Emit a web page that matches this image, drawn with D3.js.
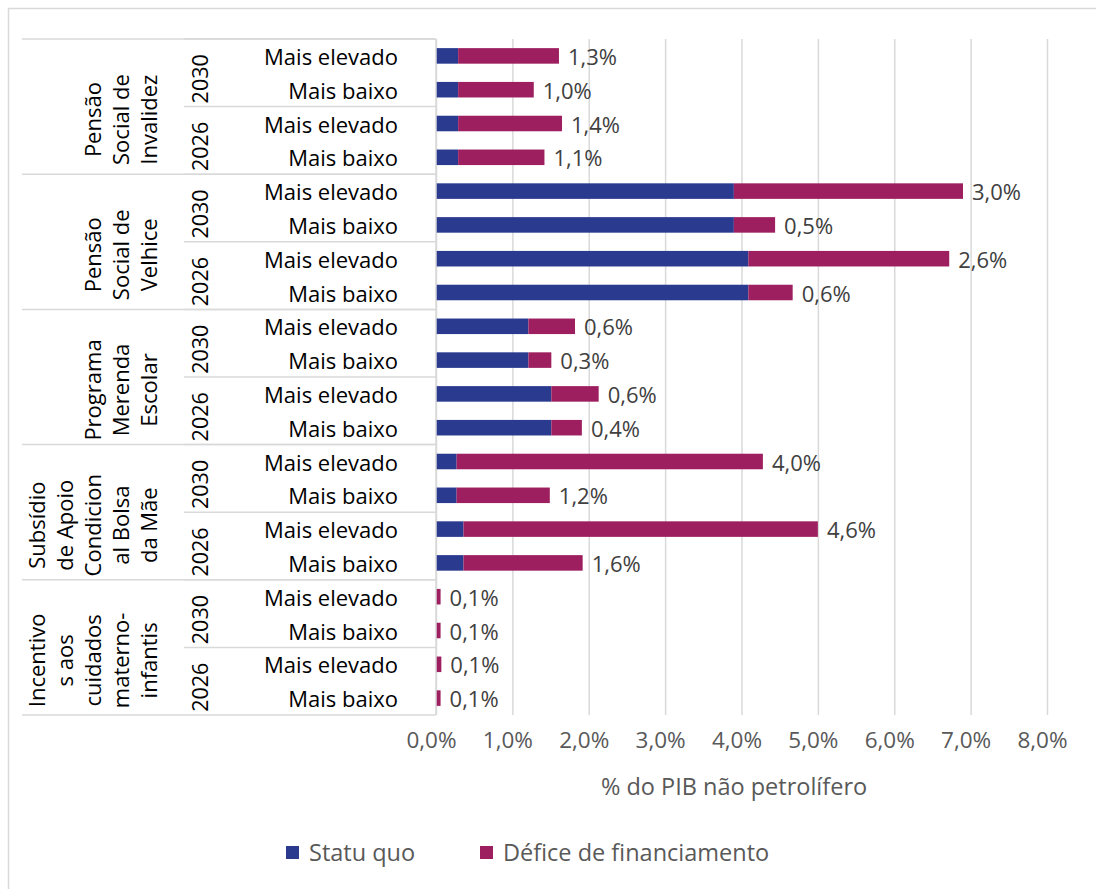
<!DOCTYPE html>
<html>
<head lang="pt">
  <meta charset="UTF-8">
  <title>Défice de financiamento</title>
</head>
<style>
  body { margin: 0; background: #fff; }
  svg { font-family: "Open Sans", "Noto Sans", sans-serif; }
  .grid line { stroke: #d9d9d9; stroke-width: 1.5; }
  .cat-line { stroke: #d9d9d9; stroke-width: 1.5; }
</style>
<body>

<svg id="chart" width="1096" height="889"></svg>

<script src="https://cdn.jsdelivr.net/npm/d3@7"></script>
<script>
  // programas (de cima para baixo), anos e cenários
  var programs = [
    ['Pensão', 'Social de', 'Invalidez'],
    ['Pensão', 'Social de', 'Velhice'],
    ['Programa', 'Merenda', 'Escolar'],
    ['Subsídio', 'de Apoio', 'Condicion', 'al Bolsa', 'da Mãe'],
    ['Incentivo', 's aos', 'cuidados', 'materno-', 'infantis']
  ];
  var years = ['2030', '2026'];
  var scenarios = ['Mais elevado', 'Mais baixo'];

  // % do PIB não petrolífero, uma entrada por barra, de cima para baixo
  var statuQuo = [
    0.29, 0.29, 0.29, 0.29,
    3.90, 3.90, 4.09, 4.09,
    1.21, 1.21, 1.51, 1.51,
    0.27, 0.27, 0.36, 0.36,
    0.00, 0.00, 0.00, 0.00
  ];
  var deficit = [
    1.32, 0.99, 1.36, 1.13,
    3.00, 0.54, 2.63, 0.58,
    0.61, 0.30, 0.62, 0.40,
    4.01, 1.22, 4.64, 1.56,
    0.06, 0.06, 0.07, 0.06
  ];
  var xTicks = [0, 1, 2, 3, 4, 5, 6, 7, 8];
  var seriesNames = ['Statu quo', 'Défice de financiamento'];
  var colors = ['#293a8f', '#9e1f60'];

  var pt = d3.formatLocale({ decimal: ',', thousands: '.', grouping: [3], currency: ['', ''] });
  var fmt = function(v) { return pt.format('.1f')(v) + '%'; };

  var rows = [];
  programs.forEach(function(p, pi) {
    years.forEach(function(yr, yi) {
      scenarios.forEach(function(s, si) {
        var i = rows.length;
        rows.push({ id: i, program: pi, year: yr, scenario: s, sq: statuQuo[i], def: deficit[i] });
      });
    });
  });

  var plotTop = 39, plotBottom = 715, plotLeft = 436, plotRight = 1047;
  var svg = d3.select('#chart');

  var x = d3.scaleLinear().domain([0, 8]).range([plotLeft, plotRight]);
  var y = d3.scaleBand().domain(rows.map(function(d) { return d.id; }))
      .range([plotTop, plotBottom]).paddingInner(0.54).paddingOuter(0.27);
  var step = y.step();

  // moldura
  svg.append('rect')
    .attr('x', 8.5).attr('y', 8.5).attr('width', 1200).attr('height', 1000)
    .attr('fill', 'none').attr('stroke', '#d9d9d9').attr('stroke-width', 1.5);

  // grelha
  svg.append('g')
    .attr('class', 'grid')
    .attr('transform', 'translate(0,' + plotBottom + ')')
    .call(d3.axisBottom(x).tickValues(xTicks).tickSize(-(plotBottom - plotTop)).tickFormat(''))
    .call(function(g) { g.select('.domain').remove(); });

  // eixo x: rótulos
  svg.append('g')
    .attr('transform', 'translate(0,' + plotBottom + ')')
    .call(d3.axisBottom(x).tickValues(xTicks).tickSize(0).tickPadding(17).tickFormat(fmt))
    .call(function(g) {
      g.select('.domain').remove();
      g.selectAll('text')
        .attr('dx', -5)
        .attr('font-size', 22.5)
        .attr('font-family', '"Open Sans", "Noto Sans", sans-serif')
        .attr('fill', '#595959');
    });

  svg.append('text')
    .attr('x', 734).attr('y', 786)
    .attr('text-anchor', 'middle').attr('dominant-baseline', 'central')
    .attr('font-size', 23.5).attr('fill', '#595959')
    .text('% do PIB não petrolífero');

  // barras empilhadas
  var stack = d3.stack().keys(['sq', 'def'])(rows);
  svg.append('g').selectAll('g')
    .data(stack)
    .enter().append('g')
      .attr('fill', function(d, i) { return colors[i]; })
    .selectAll('rect')
    .data(function(d) { return d; })
    .enter().append('rect')
      .attr('x', function(d) { return x(d[0]); })
      .attr('y', function(d) { return y(d.data.id); })
      .attr('width', function(d) { return x(d[1]) - x(d[0]); })
      .attr('height', y.bandwidth());

  // rótulos do défice
  svg.append('g').selectAll('text')
    .data(rows)
    .enter().append('text')
      .attr('x', function(d) { return x(d.sq + d.def) + 9; })
      .attr('y', function(d) { return y(d.id) + y.bandwidth() / 2; })
      .attr('dominant-baseline', 'central')
      .attr('font-size', 22).attr('fill', '#404040')
      .text(function(d) { return fmt(d.def); });

  // eixo de categorias em três níveis
  var cat = svg.append('g');
  cat.append('line').attr('class', 'cat-line')
    .attr('x1', plotLeft).attr('x2', plotLeft).attr('y1', plotTop).attr('y2', plotBottom);

  cat.selectAll('.scen')
    .data(rows)
    .enter().append('text')
      .attr('x', 398)
      .attr('y', function(d) { return y(d.id) + y.bandwidth() / 2; })
      .attr('text-anchor', 'end').attr('dominant-baseline', 'central')
      .attr('font-size', 22).attr('fill', '#000')
      .text(function(d) { return d.scenario; });

  var yearGroups = d3.range(rows.length / 2);
  cat.selectAll('.yline')
    .data(yearGroups)
    .enter().append('line').attr('class', 'cat-line')
      .attr('x1', 184).attr('x2', plotLeft)
      .attr('y1', function(g) { return plotTop + g * 2 * step; })
      .attr('y2', function(g) { return plotTop + g * 2 * step; });

  cat.selectAll('.year')
    .data(yearGroups)
    .enter().append('text')
      .attr('transform', function(g) {
        return 'translate(199,' + (plotTop + (g * 2 + 1) * step + 6) + ') rotate(-90)';
      })
      .attr('text-anchor', 'middle').attr('dominant-baseline', 'central')
      .attr('font-size', 21.5).attr('fill', '#000')
      .text(function(g) { return rows[g * 2].year; });

  var progGroups = d3.range(programs.length + 1);
  cat.selectAll('.pline')
    .data(progGroups)
    .enter().append('line').attr('class', 'cat-line')
      .attr('x1', 22).attr('x2', plotLeft)
      .attr('y1', function(g) { return plotTop + g * 4 * step; })
      .attr('y2', function(g) { return plotTop + g * 4 * step; });

  programs.forEach(function(lines, pi) {
    var cy = plotTop + (pi * 4 + 2) * step + 13;
    lines.forEach(function(line, li) {
      var cx = 148 - (lines.length - 1 - li) * 28;
      cat.append('text')
        .attr('transform', 'translate(' + cx + ',' + cy + ') rotate(-90)')
        .attr('text-anchor', 'middle').attr('dominant-baseline', 'central')
        .attr('font-size', 22).attr('fill', '#000')
        .text(line);
    });
  });

  // legenda
  var legendX = [286, 480];
  var legend = svg.append('g').selectAll('g')
    .data(seriesNames)
    .enter().append('g')
      .attr('transform', function(d, i) { return 'translate(' + legendX[i] + ',852)'; });
  legend.append('rect')
    .attr('x', 0).attr('y', -6).attr('width', 13).attr('height', 13)
    .attr('fill', function(d, i) { return colors[i]; });
  legend.append('text')
    .attr('x', 23).attr('dominant-baseline', 'central')
    .attr('font-size', 23.5).attr('fill', '#595959')
    .text(function(d) { return d; });
</script>
</body>
</html>
